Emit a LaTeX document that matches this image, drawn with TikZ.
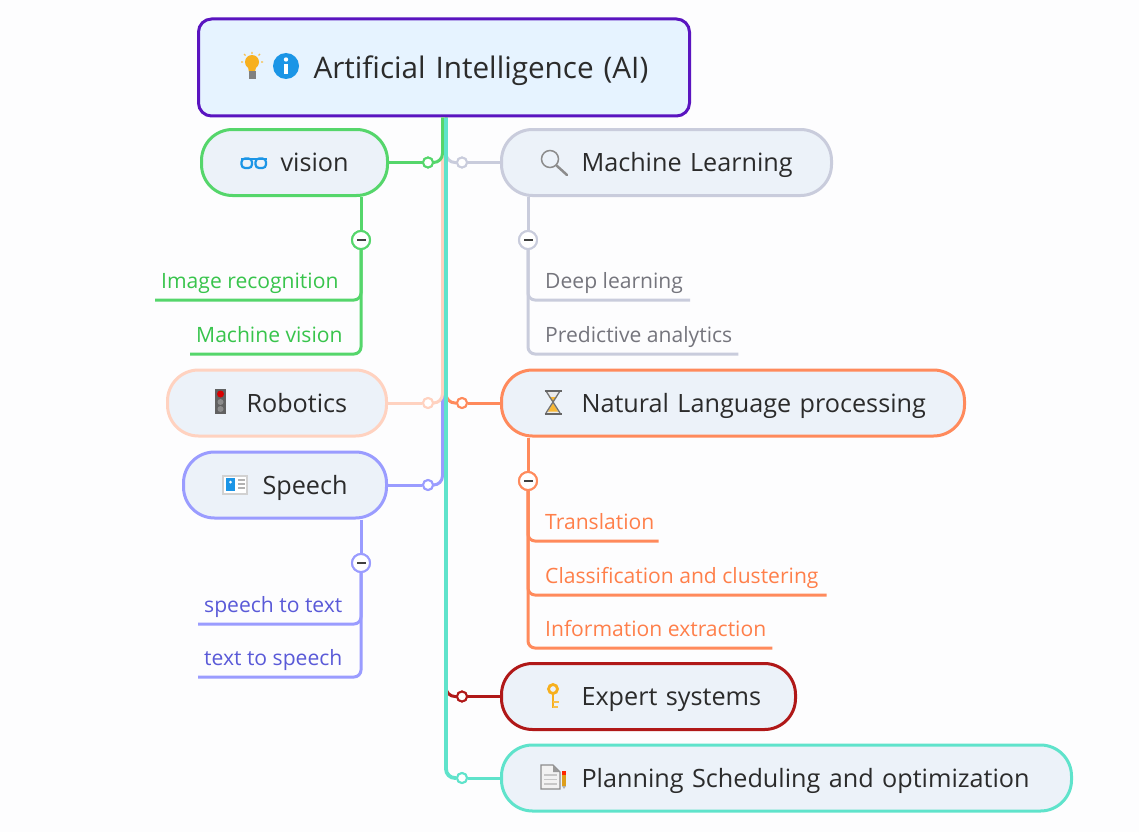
\documentclass[tikz,border=0pt]{standalone}
\usepackage{fontspec}
\setmainfont{Open Sans}
\definecolor{rootline}{HTML}{5A14C0}
\definecolor{rootfill}{HTML}{E6F3FF}
\definecolor{boxfill}{HTML}{ECF2F9}
\definecolor{cgreen}{HTML}{55D66B}
\definecolor{tgreen}{HTML}{38C44C}
\definecolor{cgrey}{HTML}{C9CCDC}
\definecolor{tgrey}{HTML}{75757D}
\definecolor{cpeach}{HTML}{FFD2C0}
\definecolor{cviolet}{HTML}{9A9CFF}
\definecolor{tviolet}{HTML}{5A5AD8}
\definecolor{corange}{HTML}{FF8A5C}
\definecolor{torange}{HTML}{FF7F4A}
\definecolor{cred}{HTML}{B01818}
\definecolor{cteal}{HTML}{5FE3CB}
\definecolor{ink}{HTML}{2B2B2B}
\definecolor{amber}{HTML}{F7B01E}
\definecolor{iconblue}{HTML}{1B95E6}
\definecolor{paper}{HTML}{FDFDFE}
\tikzset{
  topic/.style={draw=#1,fill=boxfill,line width=3pt,rounded corners=31pt,minimum height=66pt,
    anchor=west,inner xsep=0pt,inner ysep=0pt,align=left,text=ink,
    font=\fontsize{25.2}{30}\selectfont,text height=21pt,text depth=3pt},
  leaf/.style={inner ysep=0pt,anchor=south west,align=left,
    font=\fontsize{21.1}{26}\selectfont,text height=17pt,text depth=11.5pt},
  leafl/.style={leaf,inner xsep=6pt,text=#1},
  leafr/.style={leaf,inner xsep=0pt,text=#1},
  conn/.style={draw=#1,line width=3pt,rounded corners=9pt},
  subconn/.style={draw=#1,line width=3pt,rounded corners=7pt},
  hub/.style={circle,draw=#1,fill=white,line width=2pt,minimum size=10pt,inner sep=0pt},
  fold/.style={circle,draw=#1,fill=white,line width=2pt,minimum size=18pt,inner sep=0pt,
    path picture={\fill[black!75] ([xshift=-4.5pt,yshift=-1pt]path picture bounding box.center) rectangle ([xshift=4.5pt,yshift=1pt]path picture bounding box.center);}},
}
\begin{document}
\begin{tikzpicture}[x=1pt,y=-1pt]
\useasboundingbox (0,0) rectangle (1139,832);
\fill[paper] (0,0) rectangle (1139,832);

% main boxes
\node[draw=rootline,fill=rootfill,line width=3pt,rounded corners=13pt,minimum height=97pt,
  anchor=west,inner xsep=0pt,inner ysep=0pt,align=left,text=ink,
  font=\fontsize{29.7}{34}\selectfont,text height=25pt,text depth=3pt,text width=491pt]
  (root) at (197,67.5) {\hspace*{115pt}Artificial Intelligence (AI)};
\node[topic=cgreen,text width=186pt] (vision) at (200,162.5) {\hspace*{79pt}vision};
\node[topic=cgrey,text width=330pt] (ml) at (500,162.5) {\hspace*{80pt}Machine Learning};
\node[topic=cpeach,text width=219pt] (robotics) at (166,403) {\hspace*{79pt}Robotics};
\node[topic=corange,text width=463pt] (nlp) at (500,403) {\hspace*{80pt}Natural Language processing};
\node[topic=cviolet,text width=203pt] (speech) at (182,485) {\hspace*{79pt}Speech};
\node[topic=cred,text width=294pt] (expert) at (500,696.5) {\hspace*{80pt}Expert systems};
\node[topic=cteal,text width=570pt] (plan) at (500,778) {\hspace*{80pt}Planning Scheduling and optimization};

% hubs on the trunk
\node[hub=cgreen] (hvision) at (428,162.5) {};
\node[hub=cgrey] (hml) at (462,162.5) {};
\node[hub=cpeach] (hrob) at (428,403) {};
\node[hub=corange] (hnlp) at (462,403) {};
\node[hub=cviolet] (hspeech) at (428,485) {};
\node[hub=cred] (hexpert) at (462,696.5) {};
\node[hub=cteal] (hplan) at (462,778) {};

% trunk connectors
\draw[conn=cviolet] ([xshift=-1.5pt]root.south) |- (hspeech);
\draw[conn=cpeach] ([xshift=-1.5pt]root.south) |- (hrob);
\draw[conn=cgreen] ([xshift=-1.5pt]root.south) |- (hvision);
\draw[conn=cgrey] ([xshift=2pt]root.south) |- (hml);
\draw[conn=corange] ([xshift=2pt]root.south) |- (hnlp);
\draw[conn=cred] ([xshift=2pt]root.south) |- (hexpert);
\draw[conn=cteal,line width=3.8pt] ([xshift=2pt]root.south) |- (hplan);
\draw[conn=cgreen] (hvision) -- (vision.east);
\draw[conn=cgrey] (hml) -- (ml.west);
\draw[conn=cpeach] (hrob) -- (robotics.east);
\draw[conn=corange] (hnlp) -- (nlp.west);
\draw[conn=cviolet] (hspeech) -- (speech.east);
\draw[conn=cred] (hexpert) -- (expert.west);
\draw[conn=cteal] (hplan) -- (plan.west);
\foreach \h/\c in {hvision/cgreen,hml/cgrey,hrob/cpeach,hnlp/corange,hspeech/cviolet,hexpert/cred,hplan/cteal}
  \node[hub=\c] at (\h) {};

% leaf labels
\node[leafl=tgreen] (img) at (155,300) {Image recognition\hspace*{14pt}};
\node[leafl=tgreen] (mv) at (190,354) {Machine vision\hspace*{14pt}};
\node[leafr=tgrey] (dl) at (545,300) {Deep learning\hspace*{7pt}};
\node[leafr=tgrey] (pa) at (545,354) {Predictive analytics\hspace*{6pt}};
\node[leafr=torange] (tr) at (545,541) {Translation\hspace*{4pt}};
\node[leafr=torange] (cc) at (545,595) {Classification and clustering\hspace*{8pt}};
\node[leafr=torange] (ie) at (545,648) {Information extraction\hspace*{6pt}};
\node[leafl=tviolet] (st) at (198,624) {speech to text\hspace*{14pt}};
\node[leafl=tviolet] (ts) at (198,677) {text to speech\hspace*{14pt}};

% fold buttons
\node[fold=cgreen] (fv) at (361,240) {};
\node[fold=cgrey] (fm) at (528,240) {};
\node[fold=corange] (fn) at (528,481) {};
\node[fold=cviolet] (fs) at (361,563) {};

% leaf connectors
\draw[subconn=cgreen] (fv |- vision.south) -- (fv);
\draw[subconn=cgreen] (fv) |- (img.south west);
\draw[subconn=cgreen] (fv) |- (mv.south west);
\draw[subconn=cgrey] (fm |- ml.south) -- (fm);
\draw[subconn=cgrey] (fm) |- (dl.south east);
\draw[subconn=cgrey] (fm) |- (pa.south east);
\draw[subconn=corange] (fn |- nlp.south) -- (fn);
\draw[subconn=corange] (fn) |- (tr.south east);
\draw[subconn=corange] (fn) |- (cc.south east);
\draw[subconn=corange] (fn) |- (ie.south east);
\draw[subconn=cviolet] (fs |- speech.south) -- (fs);
\draw[subconn=cviolet] (fs) |- (st.south west);
\draw[subconn=cviolet] (fs) |- (ts.south west);
\node[fold=cgreen] at (fv) {};
\node[fold=cgrey] at (fm) {};
\node[fold=corange] at (fn) {};
\node[fold=cviolet] at (fs) {};

% icon: bulb
\fill[amber] (252,62) circle (7);
\fill[amber] (247.5,65) -- (256.5,65) -- (255,72) -- (249,72) -- cycle;
\fill[black!50] (248.5,71.5) rectangle (255.5,79);
\draw[amber!80,line width=1.1pt] (252,52) -- (252,54) (241,62) -- (243,62) (261,62) -- (263,62) (244,54) -- (245.5,55.5) (260,54) -- (258.5,55.5);
% icon: info
\fill[iconblue] (286,66) circle (13);
\fill[white] (286,59.5) circle (2.2);
\fill[white] (284,64) rectangle (288,74);
% icon: glasses
\draw[iconblue,line width=2.2pt,rounded corners=3.5pt] (241.5,158.5) rectangle (252,168);
\draw[iconblue,line width=2.2pt,rounded corners=3.5pt] (255.5,158.5) rectangle (266,168);
\draw[iconblue,line width=2.2pt] (241,159) -- (266.5,159);
% icon: magnifier
\draw[black!45,line width=1.5pt] (550,159) circle (8.5);
\draw[black!45,line width=2.5pt,line cap=round] (556.5,165.5) -- (567,175);
% icon: traffic light
\fill[black!62] (215,389) rectangle (226,414);
\fill[red!85!black] (220.5,394) circle (3.5);
\fill[black!45] (220.5,402) circle (3);
\fill[black!45] (220.5,409) circle (3);
% icon: hourglass
\fill[white!92!black] (546,391) -- (560,391) -- (553,402) -- (560,413) -- (546,413) -- (553,402) -- cycle;
\fill[amber!90] (548,411.5) -- (558,411.5) -- (553,403) -- cycle;
\fill[amber!90] (549,397) -- (557,397) -- (553,402) -- cycle;
\draw[black!55,line width=1.3pt] (546,391) -- (553,402) -- (546,413) (560,391) -- (553,402) -- (560,413);
\draw[black!60,line width=2pt] (544.5,390.5) -- (561.5,390.5) (544.5,413.5) -- (561.5,413.5);
% icon: card
\fill[black!18] (222,475) rectangle (248,495);
\fill[white] (224,477) rectangle (246,493);
\fill[iconblue] (226,478) rectangle (235,491);
\fill[white] (230.5,482) circle (1.5);
\draw[black!30,line width=1.2pt] (238,480) -- (245,480) (238,484) -- (245,484) (238,488) -- (245,488);
% icon: key
\draw[amber,line width=2.8pt] (553,689) circle (4.5);
\draw[amber,line width=2.6pt] (553,694) -- (553,708);
\draw[amber!80,line width=2pt] (553,702) -- (559,702) (553,706.5) -- (558,706.5);
% icon: document
\filldraw[fill=white!95!black,draw=black!45,line width=1.3pt] (541,765) -- (553,765) -- (560,772) -- (560,789) -- (541,789) -- cycle;
\fill[black!40] (553,765) -- (560,772) -- (553,772) -- cycle;
\draw[black!22,line width=1.5pt] (544,775) -- (557,775) (544,779.5) -- (557,779.5) (544,784) -- (557,784);
\fill[red!70!orange] (562,771) rectangle (566,775);
\fill[amber!90!black] (562,775) rectangle (566,786);
\fill[black!30] (562,786) -- (566,786) -- (564,789) -- cycle;
\end{tikzpicture}
\end{document}
